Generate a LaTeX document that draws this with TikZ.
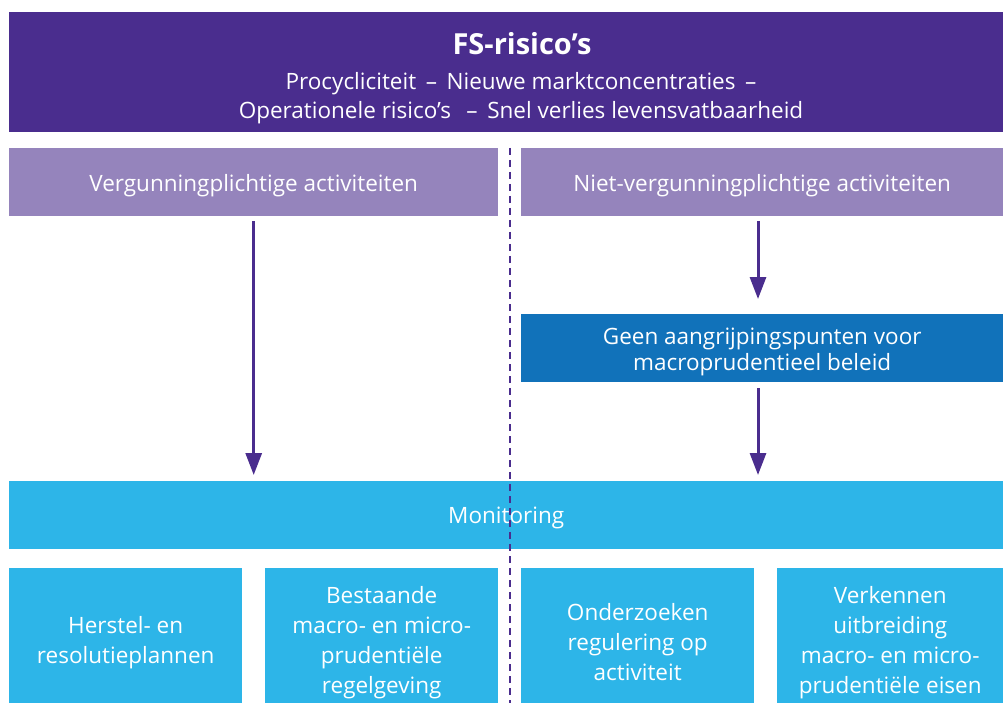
\documentclass[tikz,border=0pt]{standalone}
\usepackage{fontspec}
\setmainfont{Open Sans}
\usetikzlibrary{arrows.meta}
\definecolor{dnbpurple}{HTML}{4A2D8E}
\definecolor{dnblav}{HTML}{9584BC}
\definecolor{dnbdark}{HTML}{1172BA}
\definecolor{dnblight}{HTML}{2DB5E8}
\begin{document}
\begin{tikzpicture}[x=1pt,y=-1pt,
  box/.style={anchor=north west, inner sep=0pt},
  txt/.style={inner sep=0pt, text=white, align=center, font=\fontsize{22.5}{30}\selectfont},
  arr/.style={draw=dnbpurple, line width=3pt, -{Triangle[width=16pt,length=22pt]}},
  sep/.style={draw=dnbpurple, line width=2pt, dash pattern=on 7pt off 5pt}]
\useasboundingbox[fill=white] (0,0) rectangle (1003,703);
\node[box, fill=dnbpurple, minimum width=994pt, minimum height=120pt] (top) at (9,12) {};
\node[txt, font=\bfseries\fontsize{29}{34}\selectfont] (title) at (522,44) {FS-risico’s};
\node[txt, font=\fontsize{22.5}{29}\selectfont] (risks) at (521,98) {Procycliciteit\, – \,Nieuwe marktconcentraties \,–\\Operationele risico’s \, – \,Snel verlies levensvatbaarheid};
\node[box, fill=dnblav, minimum width=489pt, minimum height=68pt] (lv1) at (9,148) {};
\node[txt] (lv1t) at ([yshift=-3pt]lv1.center) {Vergunningplichtige activiteiten};
\node[box, fill=dnblav, minimum width=482pt, minimum height=68pt] (lv2) at (521,148) {};
\node[txt] (lv2t) at ([yshift=-3pt]lv2.center) {Niet-vergunningplichtige activiteiten};
\node[box, fill=dnbdark, minimum width=482pt, minimum height=68pt] (geen) at (521,314) {};
\node[txt, font=\fontsize{22.5}{26}\selectfont] (geent) at ([yshift=-4pt]geen.center) {Geen aangrijpingspunten voor\\macroprudentieel beleid};
\node[box, fill=dnblight, minimum width=994pt, minimum height=68pt] (mon) at (9,481) {};
\node[txt] (mont) at ([yshift=-3pt]mon.center) {Monitoring};
\node[box, fill=dnblight, minimum width=233pt, minimum height=135pt] (b1) at (9,568) {};
\node[txt] (b1t) at ([yshift=-7pt]b1.center) {Herstel- en\\resolutieplannen};
\node[box, fill=dnblight, minimum width=233pt, minimum height=135pt] (b2) at (265,568) {};
\node[txt] (b2t) at ([yshift=-7pt]b2.center) {Bestaande\\macro- en micro-\\prudentiële\\regelgeving};
\node[box, fill=dnblight, minimum width=233pt, minimum height=135pt] (b3) at (521,568) {};
\node[txt] (b3t) at ([yshift=-6pt]b3.center) {Onderzoeken\\regulering op\\activiteit};
\node[box, fill=dnblight, minimum width=226pt, minimum height=135pt] (b4) at (777,568) {};
\node[txt] (b4t) at ([yshift=-7pt]b4.center) {Verkennen\\uitbreiding\\macro- en micro-\\prudentiële eisen};
\coordinate (ra) at (758,216);
\coordinate (sepTop) at (510,148);
\coordinate (sepBot) at (510,703);
\draw[sep] (sepTop) -- (sepBot);
\draw[arr, shorten <=5pt, shorten >=6pt] (lv1.south) -- (lv1.south |- mon.north);
\draw[arr, shorten <=5pt, shorten >=15pt] (ra) -- (ra |- geen.north);
\draw[arr, shorten <=6pt, shorten >=6pt] (ra |- geen.south) -- (ra |- mon.north);
\end{tikzpicture}
\end{document}
